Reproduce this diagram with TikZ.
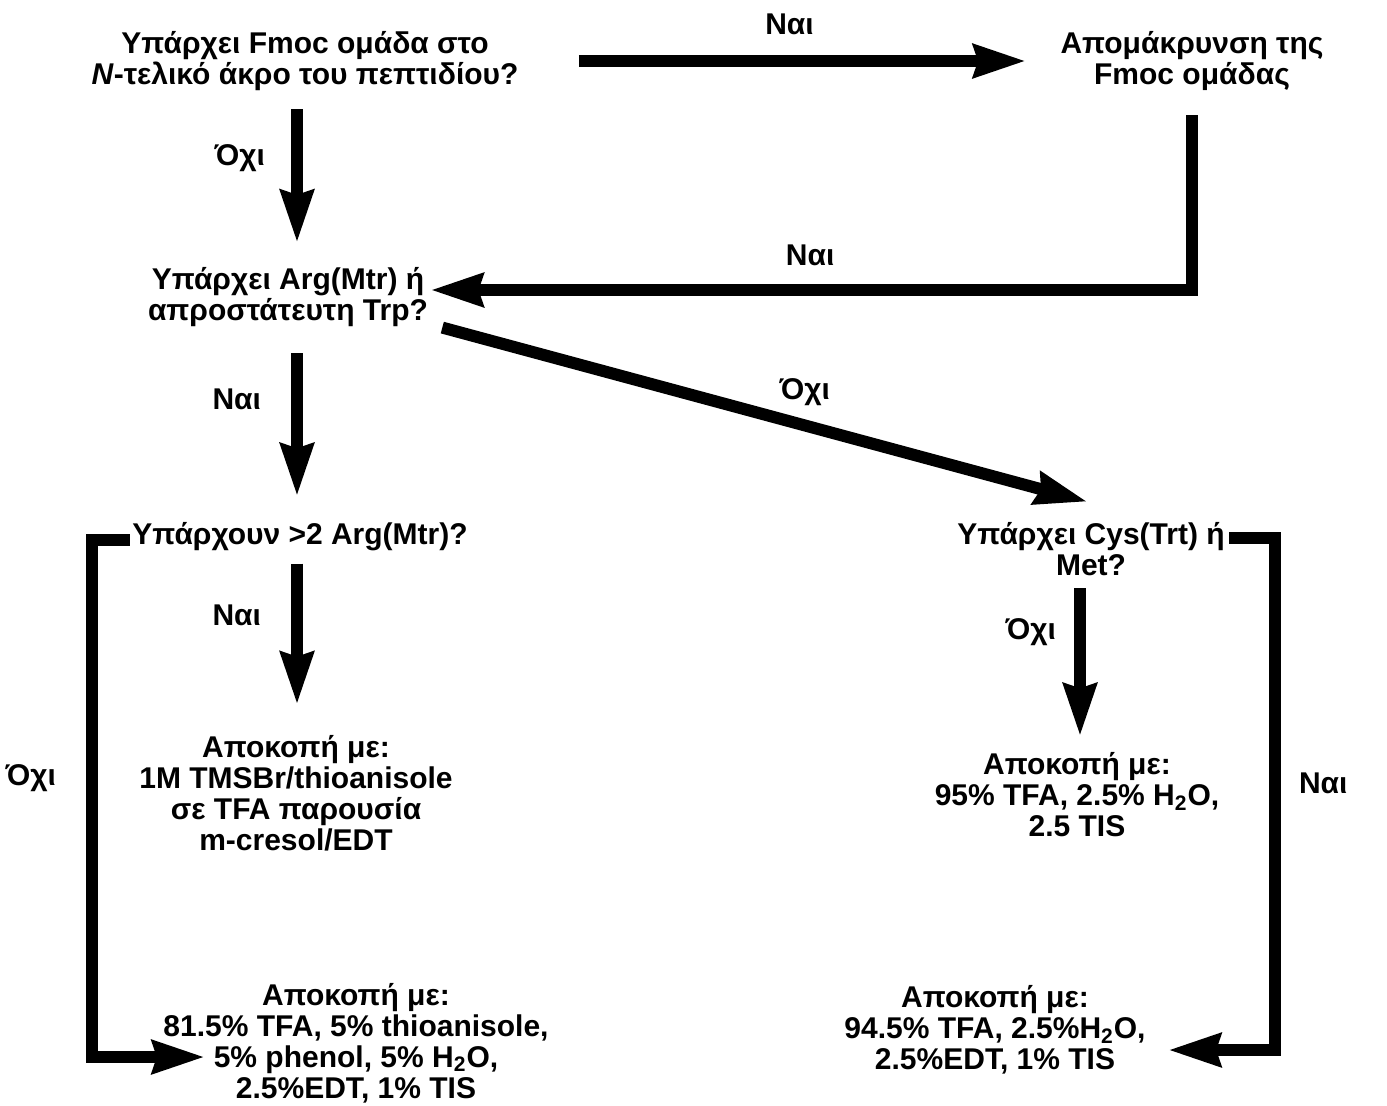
\documentclass[tikz,border=0pt]{standalone}
\usepackage{fontspec}
\setmainfont{Liberation Sans}
\usetikzlibrary{arrows.meta,positioning}

\begin{document}
\begin{tikzpicture}[x=0.5pt, y=-0.5pt, font=\fontsize{15}{15.5}\selectfont\bfseries]
    % Στυλ
    \tikzstyle{question} = [align=center, inner sep=0pt]
    \tikzstyle{result} = [align=center, inner sep=0pt]
    \tikzstyle{answer} = [inner sep=0pt]
    \tikzstyle{arrow} = [line width=6pt, -{Stealth[length=26pt, width=16pt, inset=2pt]}]

    \useasboundingbox (0,0) rectangle (1387,1105);

    % Βοηθητικά σημεία για τις γραμμές
    \coordinate (colL) at (297,0);
    \coordinate (colM) at (1080,0);
    \coordinate (lowL) at (92,1057);
    \coordinate (tipL) at (205,1057);
    \coordinate (lowR) at (1275,1050);
    \coordinate (tipR) at (1168,1050);

    % Κόμβοι
    \node (fmoc) [question] at (305,61) {Υπάρχει Fmoc ομάδα στο\\\textit{N}-τελικό άκρο του πεπτιδίου?};
    \node (removal) [question] at (1192,61) {Απομάκρυνση της\\Fmoc ομάδας};
    \node (argtrp) [question] at (288,297) {Υπάρχει Arg(Mtr) ή\\απροστάτευτη Trp?};
    \node (more) [question] at (300,537) {Υπάρχουν >2 Arg(Mtr)?};
    \node (cysmet) [question] at (1091,549) {Υπάρχει Cys(Trt) ή\\Met?};
    \node (cutTms) [result] at (296,793) {Αποκοπή με:\\1M TMSBr/thioanisole\\σε TFA παρουσία\\m-cresol/EDT};
    \node (cutStd) [result] at (1077,795) {Αποκοπή με:\\95\% TFA, 2.5\% H\textsubscript{2}O,\\2.5 TIS};
    \node (cutTfa) [result] at (356,1043) {Αποκοπή με:\\81.5\% TFA, 5\% thioanisole,\\5\% phenol, 5\% H\textsubscript{2}O,\\2.5\%EDT, 1\% TIS};
    \node (cutEdt) [result] at (995,1030) {Αποκοπή με:\\94.5\% TFA, 2.5\%H\textsubscript{2}O,\\2.5\%EDT, 1\% TIS};

    % Βέλη
    \draw [arrow, shorten <=30pt, shorten >=17pt] (fmoc.east) -- (removal.west) node[answer, midway, above=10pt] {Ναι};
    \draw [arrow, shorten <=9pt, shorten >=12pt] (fmoc.south -| colL) -- (argtrp.north -| colL) node[answer, pos=0.38, left=13pt] {Όχι};
    \draw [arrow, shorten <=12pt, shorten >=1pt] (removal.south) |- ([yshift=3.5pt]argtrp.east) node[answer, pos=0.75, above=9pt] {Ναι};
    \draw [arrow, shorten <=13pt, shorten >=13pt] (argtrp.south -| colL) -- (more.north -| colL) node[answer, pos=0.37, left=15pt] {Ναι};
    \draw [arrow, shorten <=1pt, shorten >=8pt] ([xshift=6pt]argtrp.south east) -- ([xshift=6pt, yshift=8pt]cysmet.north) node[answer, pos=0.55, above=7pt] {Όχι};
    \draw [arrow, shorten <=6pt, shorten >=15pt] (more.south -| colL) -- (cutTms.north -| colL) node[answer, pos=0.35, left=15pt] {Ναι};
    \draw [arrow, shorten <=6pt, shorten >=8pt] (cysmet.south -| colM) -- (cutStd.north -| colM) node[answer, pos=0.32, left=9pt] {Όχι};

    % Βρόχοι προς τα κάτω
    \draw [arrow, shorten <=1pt] ([yshift=-1.5pt]more.west) -| node[answer, pos=0.73, left=15pt] {Όχι} (lowL) -- (tipL);
    \draw [arrow, shorten <=2pt] ([yshift=5.5pt]cysmet.east) -| node[answer, pos=0.74, right=9pt] {Ναι} (lowR) -- (tipR);

\end{tikzpicture}
\end{document}
